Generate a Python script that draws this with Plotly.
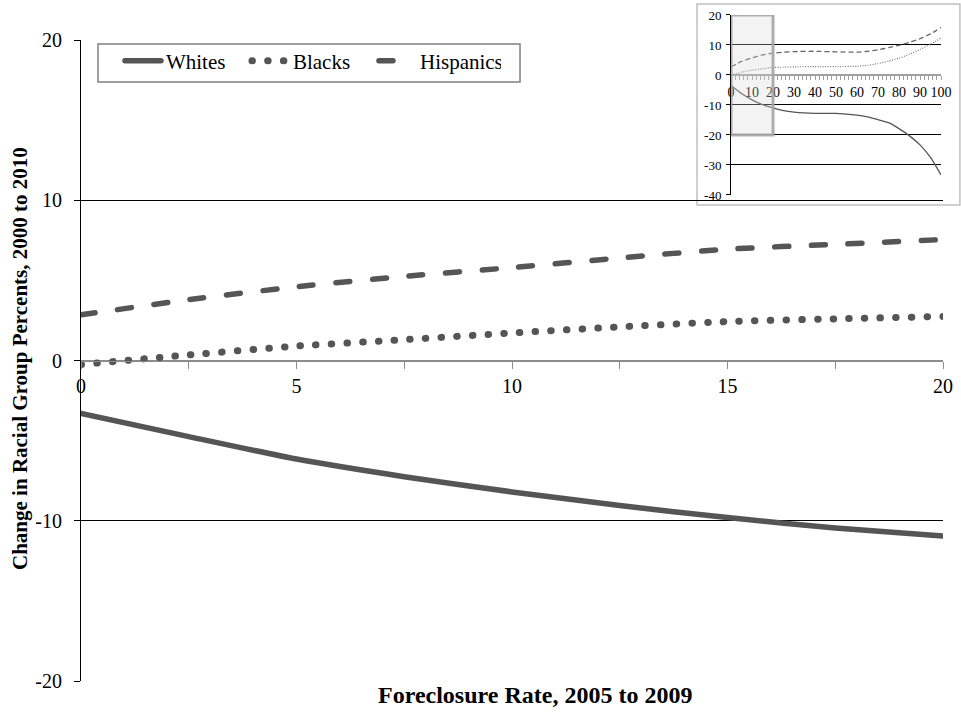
import plotly.graph_objects as go

# ---------------- data ----------------
main_x = [0, 2.5, 5, 7.5, 10, 12.5, 15, 17.5, 20]
whites_main = [-3.3, -4.75, -6.15, -7.25, -8.2, -9.05, -9.8, -10.45, -10.95]
blacks_main = [-0.25, 0.35, 0.9, 1.3, 1.72, 2.1, 2.43, 2.6, 2.75]
hisp_main = [2.85, 3.8, 4.6, 5.25, 5.8, 6.4, 6.95, 7.25, 7.55]

inset_x = [0, 5, 10, 15, 20, 25, 30, 40, 50, 60, 65, 70, 75, 80, 85, 90, 95, 100]
whites_inset = [-3.5, -6.2, -8.3, -9.9, -11.0, -11.9, -12.4, -12.8, -12.8, -13.4, -14.0, -14.9, -15.9, -17.9, -20.3, -23.3, -27.5, -33.3]
blacks_inset = [-0.2, 0.9, 1.6, 2.1, 2.5, 2.6, 2.7, 2.8, 2.8, 2.9, 3.2, 3.8, 4.6, 5.6, 6.9, 8.5, 10.3, 12.3]
hisp_inset = [2.7, 4.5, 5.7, 6.7, 7.3, 7.6, 7.8, 7.9, 7.7, 7.6, 7.9, 8.4, 9.1, 9.9, 10.9, 12.1, 13.7, 15.8]

series_names = ["Whites", "Blacks", "Hispanics"]

main_x_ticks = [0, 5, 10, 15, 20]
main_y_ticks = [-20, -10, 0, 10, 20]
main_y_text = ["-20", "-10", "0", "10", "20"]
inset_x_ticks = [0, 10, 20, 30, 40, 50, 60, 70, 80, 90, 100]
inset_y_ticks = [-40, -30, -20, -10, 0, 10, 20]
inset_y_text = ["-40", "-30", "-20", "-10", "0", "10", "20"]
zoom_window_x = [0, 20]
zoom_window_y = [-20, 20]

main_y_range = [-20, 20]
inset_y_range = [-40, 20]

x_title = "Foreclosure Rate, 2005 to 2009"
y_title = "Change in Racial Group Percents, 2000 to 2010"

# ---------------- style ----------------
FONT = "Liberation Serif, Times New Roman, serif"
C = "#555555"
main_dom_y = [0, 0.944]
inset_dom_x = [0.7541, 0.9977]
inset_dom_y = [0.7158, 0.9809]


def zero_pos(dom, rng):
    return dom[0] + (0 - rng[0]) / (rng[1] - rng[0]) * (dom[1] - dom[0])


fig = go.Figure()

styles_main = [
    dict(color=C, width=5.5),
    dict(color=C, width=7, dash="0.5px,15.2px"),
    dict(color=C, width=5.5, dash="14px,22.7px"),
]
for name, ys, st in zip(series_names, [whites_main, blacks_main, hisp_main], styles_main):
    fig.add_trace(go.Scatter(x=main_x, y=ys, name=name, mode="lines",
                             line=dict(shape="spline", smoothing=0.6, **st),
                             xaxis="x", yaxis="y", hoverinfo="skip"))

styles_inset = [
    dict(color="#555555", width=1.3),
    dict(color="#777777", width=1.2, dash="1px,1.5px"),
    dict(color="#666666", width=1.3, dash="5px,3px"),
]
for name, ys, st in zip(series_names, [whites_inset, blacks_inset, hisp_inset], styles_inset):
    fig.add_trace(go.Scatter(x=inset_x, y=ys, name=name, mode="lines",
                             line=dict(shape="spline", smoothing=0.5, **st),
                             xaxis="x2", yaxis="y2", showlegend=False, hoverinfo="skip"))

fig.update_layout(
    width=961, height=713,
    margin=dict(l=81, r=18, t=2, b=32, autoexpand=False),
    paper_bgcolor="white", plot_bgcolor="rgba(0,0,0,0)",
    font=dict(family=FONT, size=20, color="black"),
    showlegend=True,
    legend=dict(orientation="h", x=0.0452, y=0.943, xanchor="left", yanchor="top",
                bgcolor="rgba(0,0,0,0)", borderwidth=0,
                font=dict(family=FONT, size=21, color="black"),
                itemwidth=36, entrywidth=76, traceorder="normal"),
    xaxis=dict(domain=[0, 1], range=[0, 20], anchor="free", automargin=False,
               position=zero_pos(main_dom_y, main_y_range),
               showline=True, linecolor="#8c8c8c", linewidth=1,
               showgrid=False, zeroline=False,
               tickvals=main_x_ticks, ticks="outside", ticklen=7, tickcolor="#8c8c8c",
               minor=dict(dtick=2.5, ticks="outside", ticklen=7, tickcolor="#8c8c8c", showgrid=False),
               tickfont=dict(family=FONT, size=20)),
    yaxis=dict(domain=main_dom_y, range=main_y_range, anchor="x", automargin=False,
               showline=True, linecolor="black", linewidth=1,
               showgrid=True, gridcolor="black", gridwidth=1,
               zeroline=True, zerolinecolor="#8c8c8c", zerolinewidth=1,
               tickvals=main_y_ticks, ticktext=main_y_text,
               ticks="outside", ticklen=6, tickcolor="black",
               ticklabelstandoff=8,
               tickfont=dict(family=FONT, size=20)),
    xaxis2=dict(domain=inset_dom_x, range=[0, 100], anchor="free", automargin=False,
                position=zero_pos(inset_dom_y, inset_y_range),
                showline=True, linecolor="#a0a0a0", linewidth=1,
                showgrid=False, zeroline=False,
                tickvals=inset_x_ticks, ticks="outside", ticklen=4, tickcolor="#a0a0a0",
                minor=dict(dtick=2, ticks="outside", ticklen=4, tickcolor="#a0a0a0", showgrid=False),
                ticklabelstandoff=0,
                tickfont=dict(family=FONT, size=14, color="black")),
    yaxis2=dict(domain=inset_dom_y, range=inset_y_range, anchor="x2", automargin=False,
                showline=True, linecolor="black", linewidth=1,
                showgrid=True, gridcolor="black", gridwidth=1,
                zeroline=True, zerolinecolor="#a0a0a0", zerolinewidth=1,
                tickvals=inset_y_ticks, ticktext=inset_y_text,
                ticks="outside", ticklen=4, tickcolor="black",
                ticklabelstandoff=2,
                tickfont=dict(family=FONT, size=13)),
    shapes=[
        # legend frame
        dict(type="rect", xref="paper", yref="paper",
             x0=0.0197, x1=0.5093, y0=0.8822, y1=0.9381,
             fillcolor="rgba(0,0,0,0)", line=dict(color="#808080", width=1.5), layer="above"),
        # inset frame (covers the main chart behind it)
        dict(type="rect", xref="x2 domain", yref="y2 domain",
             x0=-0.162, x1=1.09, y0=-0.056, y1=1.061,
             fillcolor="white", line=dict(color="#c0c0c0", width=1.5), layer="below"),
        # highlighted zoom window
        dict(type="rect", xref="x2", yref="y2",
             x0=zoom_window_x[0], x1=zoom_window_x[1], y0=zoom_window_y[0], y1=zoom_window_y[1],
             fillcolor="rgba(215,215,215,0.3)", line=dict(color="rgba(165,165,165,0.9)", width=3),
             layer="above"),
    ],
    annotations=[
        dict(text="<b>" + x_title + "</b>", xref="paper", yref="paper",
             x=0.5267, y=-0.0206, xanchor="center", yanchor="middle", showarrow=False,
             font=dict(family=FONT, size=24)),
        dict(text="<b>" + y_title + "</b>", xref="paper", yref="paper",
             x=-0.0708, y=0.4757, xanchor="center", yanchor="middle", showarrow=False,
             textangle=-90, font=dict(family=FONT, size=21)),
    ],
)

post = """
document.body.style.margin = '0';
document.body.style.overflow = 'hidden';
var gd = document.getElementById('{plot_id}');
function rc(){ gd.querySelectorAll('.subplot.xy path.js-line, .legend path.js-line').forEach(function(p){ p.style.strokeLinecap='round'; }); }
rc(); gd.on('plotly_afterplot', rc);
"""

fig.write_html("out.html", post_script=post, config=dict(displayModeBar=False))
